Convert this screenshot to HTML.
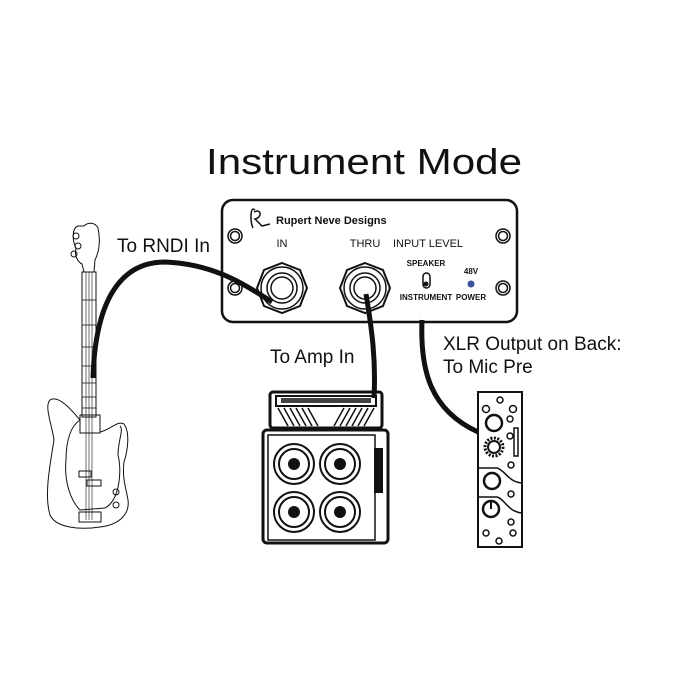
<!DOCTYPE html>
<html><head><meta charset="utf-8"><style>
html,body{margin:0;padding:0;background:#fff;}
svg{display:block;}
text{font-family:"Liberation Sans",sans-serif;fill:#111;}
</style></head><body>
<svg width="700" height="700" viewBox="0 0 700 700" xmlns="http://www.w3.org/2000/svg">
<rect width="700" height="700" fill="#fff"/>
<text x="206" y="174" font-size="36" textLength="316" lengthAdjust="spacingAndGlyphs">Instrument Mode</text>

<!-- DI panel -->
<rect x="222" y="200" width="295" height="122" rx="11" fill="#fff" stroke="#111" stroke-width="2.5"/>
<g fill="none" stroke="#111" stroke-width="1.5">
<circle cx="235" cy="236" r="7"/><circle cx="235" cy="236" r="4.5"/>
<circle cx="235" cy="288" r="7"/><circle cx="235" cy="288" r="4.5"/>
<circle cx="503" cy="236" r="7"/><circle cx="503" cy="236" r="4.5"/>
<circle cx="503" cy="288" r="7"/><circle cx="503" cy="288" r="4.5"/>
<polygon points="282,263 300,270 307,288 300,306 282,313 264,306 257,288 264,270" stroke-width="2"/>
<circle cx="282" cy="288" r="21"/><circle cx="282" cy="288" r="15"/><circle cx="282" cy="288" r="11"/>
<polygon points="365,263 383,270 390,288 383,306 365,313 347,306 340,288 347,270" stroke-width="2"/>
<circle cx="365" cy="288" r="21"/><circle cx="365" cy="288" r="15"/><circle cx="365" cy="288" r="11"/>
<rect x="423" y="273" width="7" height="15" rx="3.5"/>
<path d="M255 210 C250 205 250 222 253 228 M254 212 C262 208 262 218 255 219 L262 226 L270 224"/>
</g>
<circle cx="426" cy="284" r="2.5" fill="#111"/>
<circle cx="471" cy="284" r="3.5" fill="#3b4fa0"/>
<text x="276" y="224" font-size="11" font-weight="bold">Rupert Neve Designs</text>
<text x="282" y="247" font-size="11" text-anchor="middle">IN</text>
<text x="365" y="247" font-size="11" text-anchor="middle">THRU</text>
<text x="428" y="247" font-size="11" text-anchor="middle">INPUT LEVEL</text>
<text x="426" y="266" font-size="8" text-anchor="middle" font-weight="bold">SPEAKER</text>
<text x="426" y="300" font-size="8" text-anchor="middle" font-weight="bold">INSTRUMENT</text>
<text x="471" y="274" font-size="8" text-anchor="middle" font-weight="bold">48V</text>
<text x="471" y="300" font-size="8" text-anchor="middle" font-weight="bold">POWER</text>

<!-- cables -->
<path d="M272 302 C245 285 215 264 165 262 C115 262 95 310 93 378" fill="none" stroke="#111" stroke-width="5"/>
<path d="M366 294 C372 330 376 360 374 398" fill="none" stroke="#111" stroke-width="5"/>
<path d="M422 320 C420 370 430 410 478 432" fill="none" stroke="#111" stroke-width="5"/>

<!-- labels -->
<text x="117" y="252" font-size="19">To RNDI In</text>
<text x="270" y="363" font-size="19">To Amp In</text>
<text x="443" y="350" font-size="19">XLR Output on Back:</text>
<text x="443" y="373" font-size="19">To Mic Pre</text>

<!-- amp head -->
<g fill="none" stroke="#111" stroke-width="2">
<rect x="270" y="392" width="112" height="36" rx="3" stroke-width="3"/>
<rect x="276" y="396" width="100" height="10"/>
<path d="M278 408 L288 426 M284 408 L294 426 M290 408 L300 426 M296 408 L306 426 M302 408 L312 426 M308 408 L318 426 M344 408 L334 426 M350 408 L340 426 M356 408 L346 426 M362 408 L352 426 M368 408 L358 426 M374 408 L364 426" stroke-width="1.5"/>
<rect x="263" y="430" width="125" height="113" rx="4" stroke-width="3"/>
<path d="M268 435 L375 435 L375 540 L268 540 Z" stroke-width="1.5"/>
<circle cx="294" cy="464" r="20"/><circle cx="294" cy="464" r="15"/>
<circle cx="340" cy="464" r="20"/><circle cx="340" cy="464" r="15"/>
<circle cx="294" cy="512" r="20"/><circle cx="294" cy="512" r="15"/>
<circle cx="340" cy="512" r="20"/><circle cx="340" cy="512" r="15"/>
</g>
<g fill="#111">
<circle cx="294" cy="464" r="6"/><circle cx="340" cy="464" r="6"/><circle cx="294" cy="512" r="6"/><circle cx="340" cy="512" r="6"/>
<rect x="374" y="448" width="9" height="45"/>
<rect x="281" y="398" width="90" height="5" opacity="0.8"/>
</g>

<!-- mic pre -->
<g fill="none" stroke="#111" stroke-width="1.5">
<rect x="478" y="392" width="44" height="155" stroke-width="2"/>
<circle cx="500" cy="400" r="3"/><circle cx="486" cy="409" r="3.5"/><circle cx="513" cy="409" r="3.5"/>
<circle cx="494" cy="423" r="8" stroke-width="2.5"/><circle cx="510" cy="419" r="3"/>
<circle cx="510" cy="436" r="3"/><rect x="514" y="428" width="4" height="28"/>
<circle cx="494" cy="447" r="9" stroke-width="3" stroke-dasharray="2 1.5"/><circle cx="494" cy="447" r="6" stroke-width="2"/>
<circle cx="511" cy="465" r="3"/>
<path d="M479 468 L497 468 C505 470 508 482 522 483"/>
<circle cx="492" cy="481" r="8" stroke-width="2.5"/><circle cx="511" cy="494" r="3"/>
<path d="M479 497 L497 497 C505 499 508 512 522 513"/>
<circle cx="491" cy="509" r="8" stroke-width="2.5"/><path d="M491 509 L491 502" stroke-width="2"/>
<circle cx="511" cy="522" r="3"/><circle cx="486" cy="533" r="3"/><circle cx="513" cy="533" r="3"/><circle cx="499" cy="541" r="3"/>
</g>

<!-- bass guitar -->
<g fill="none" stroke="#111" stroke-width="1">
<path d="M78 226 C72 228 72 240 76 248 C74 256 78 262 82 264 L84 272 L94 272 L95 260 C100 250 100 238 98 228 C95 222 88 222 84 226 Z"/>
<circle cx="76" cy="236" r="3"/><circle cx="78" cy="246" r="3"/><circle cx="74" cy="254" r="3"/>
<rect x="82" y="272" width="14" height="145"/>
<path d="M86 272 L86 520 M89 272 L89 520 M92 272 L92 520" stroke-width="0.6"/>
<path d="M82 300 L96 300 M82 325 L96 325 M82 347 L96 347 M82 366 L96 366 M82 383 L96 383 M82 397 L96 397 M82 408 L96 408" stroke-width="0.8"/>
<rect x="80" y="415" width="20" height="18"/>
<path d="M80 420 C70 408 58 395 50 400 C44 406 52 425 54 440 C50 465 44 495 50 515 C56 528 80 530 100 527 C118 525 130 515 128 500 C126 488 122 478 124 462 C128 450 130 432 124 424 C118 420 110 430 100 432"/>
<path d="M80 420 C72 425 66 438 66 460 C64 480 70 500 80 510 L105 508 C120 500 122 470 118 455 C118 440 124 430 120 426"/>
<rect x="79" y="471" width="12" height="6"/><rect x="87" y="480" width="14" height="6"/>
<rect x="79" y="512" width="22" height="10"/>
<circle cx="116" cy="492" r="3"/><circle cx="116" cy="505" r="3"/>
</g>
</svg>
</body></html>
